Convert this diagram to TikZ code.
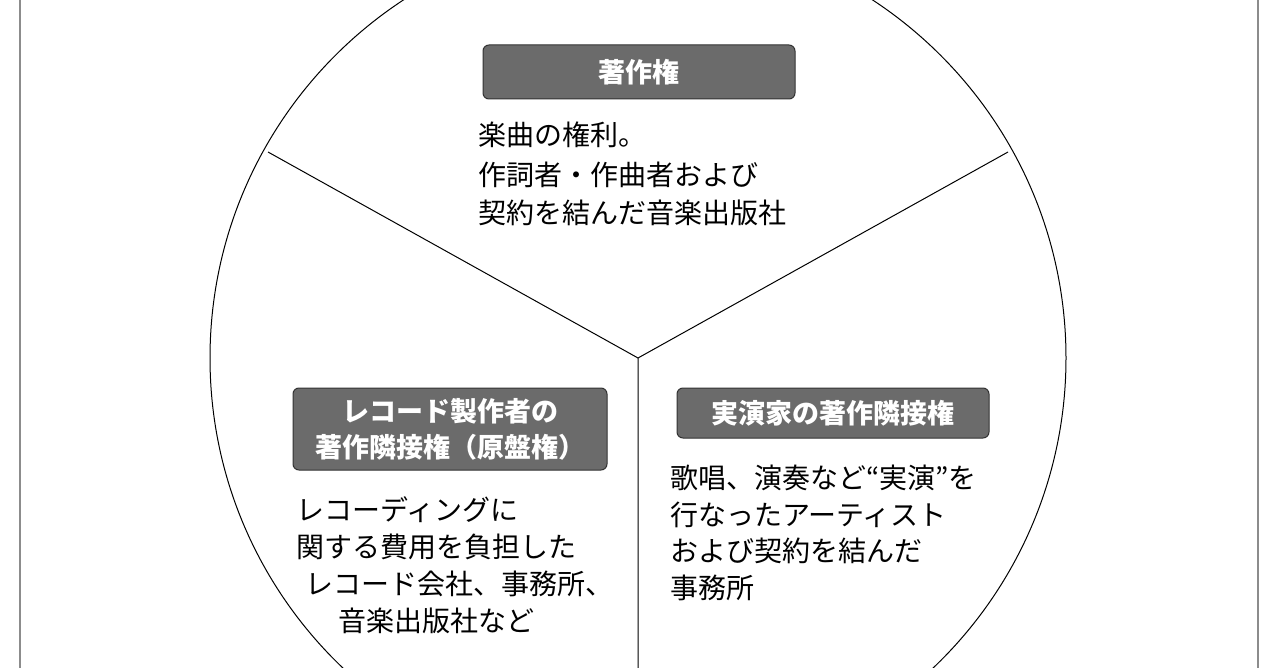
\documentclass[tikz,border=0pt]{standalone}
\usepackage{fontspec}
\setmainfont{Noto Sans CJK JP}
\begin{document}
\begin{tikzpicture}[x=1pt,y=-1pt,
  lbl/.style={rounded corners=6pt,fill=black!58,draw=black!80,line width=1pt,text=white,font=\fontsize{27}{36}\selectfont\bfseries,inner sep=0pt,align=center},
  txt/.style={anchor=west,inner sep=0pt,font=\fontsize{28}{38}\selectfont}]
\useasboundingbox (0,0) rectangle (1280,668);
\fill[white] (0,0) rectangle (1280,668);
\begin{scope}
\clip (0,0) rectangle (1280,668);
\draw[black!45,line width=1.5pt] (20,-5) -- (20,673) (1258,-5) -- (1258,673);
\coordinate (c) at (638,358);
\coordinate (l) at (268,152);
\coordinate (r) at (1008,152);
\coordinate (b) at (638,700);
\draw[line width=1pt] (c) circle[radius=428];
\draw[line width=1pt] (l) -- (c) -- (r) (c) -- (b);
\end{scope}
\node[lbl,minimum width=312,minimum height=54] (t) at (639,72) {著作権};
\node[lbl,minimum width=314,minimum height=82] (lb) at (450,429) {レコード製作者の\\著作隣接権（原盤権）};
\node[lbl,minimum width=312,minimum height=50] (rb) at (833,413) {実演家の著作隣接権};
\node[txt] (t1) at (478,135) {楽曲の権利。};
\node[txt] (t2) at (478,175) {作詞者・作曲者および};
\node[txt] (t3) at (478,213) {契約を結んだ音楽出版社};
\node[txt] (r1) at (670,478) {歌唱、演奏など“実演”を};
\node[txt] (r2) at (670,515) {行なったアーティスト};
\node[txt] (r3) at (670,551) {および契約を結んだ};
\node[txt] (r4) at (670,588) {事務所};
\node[txt] (l1) at (296,510) {レコーディングに};
\node[txt] (l2) at (296,547) {関する費用を負担した};
\node[txt] (l3) at (305,584) {レコード会社、事務所、};
\node[txt] (l4) at (338,621) {音楽出版社など};
\end{tikzpicture}
\end{document}
